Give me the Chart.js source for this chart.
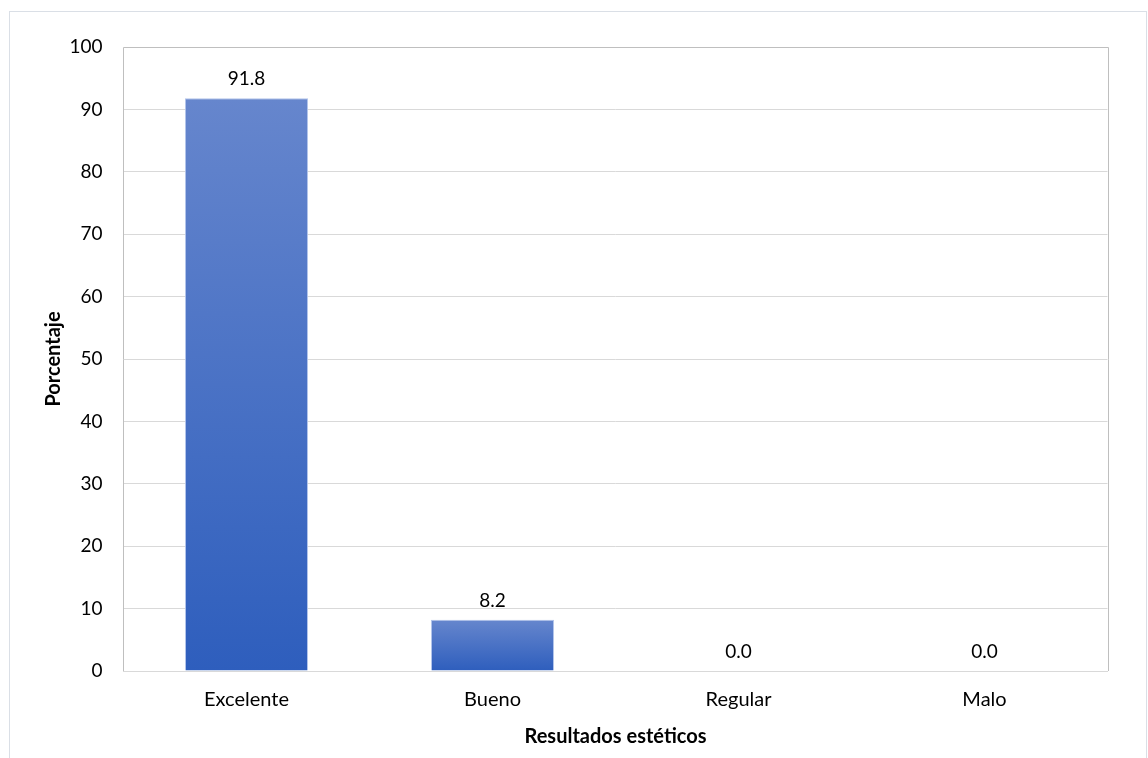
<!DOCTYPE html>
<html>
<head>
<meta charset="utf-8">
<script src="https://cdn.jsdelivr.net/npm/chart.js@4/dist/chart.umd.min.js"></script>
<style>
  html, body { margin: 0; padding: 0; background: #ffffff; }
  #wrap { position: relative; width: 1148px; height: 758px; }
</style>
</head>
<body>
<div id="wrap"><canvas id="c" width="1148" height="758"></canvas></div>
<script>
// Data
const categories = ['Excelente', 'Bueno', 'Regular', 'Malo'];
const percentages = [91.8, 8.2, 0.0, 0.0];
const yTicks = [0, 10, 20, 30, 40, 50, 60, 70, 80, 90, 100];

const FONT = 'Lato, "Open Sans", "Noto Sans", sans-serif';
const TEXT = '#000000';

// Vertical gradient per bar, from its top to the zero line
function barFill(ctx) {
  const chart = ctx.chart;
  const ys = chart.scales.y;
  if (!ys || ctx.type !== 'data') return '#3f6ec5';
  const v = percentages[ctx.dataIndex];
  const top = ys.getPixelForValue(v);
  const base = ys.getPixelForValue(0);
  if (!isFinite(top) || !isFinite(base) || base - top < 1) return '#3f6ec5';
  const g = chart.ctx.createLinearGradient(0, top, 0, base);
  g.addColorStop(0, '#6686cd');
  g.addColorStop(1, '#2e5ebd');
  return g;
}

// Outer frame and plot frame
const frames = {
  id: 'frames',
  beforeDraw(chart) {
    const c = chart.ctx;
    c.save();
    c.strokeStyle = '#dadfe6';
    c.lineWidth = 1;
    c.strokeRect(9.5, 11.5, 1137, 800);
    c.restore();
  },
  afterDatasetsDraw(chart) {
    const a = chart.chartArea;
    const c = chart.ctx;
    c.save();
    c.strokeStyle = '#bfbfbf';
    c.lineWidth = 1;
    c.beginPath();
    c.moveTo(Math.round(a.left) - 0.5, Math.round(a.bottom));
    c.lineTo(Math.round(a.left) - 0.5, Math.round(a.top) + 0.5);
    c.lineTo(Math.round(a.right) + 0.5, Math.round(a.top) + 0.5);
    c.lineTo(Math.round(a.right) + 0.5, Math.round(a.bottom));
    c.stroke();
    c.restore();
  }
};

// Value labels above each bar
const valueLabels = {
  id: 'valueLabels',
  afterDatasetsDraw(chart) {
    const meta = chart.getDatasetMeta(0);
    const c = chart.ctx;
    c.save();
    c.font = '19px ' + FONT;
    c.fillStyle = TEXT;
    c.textAlign = 'center';
    c.textBaseline = 'middle';
    meta.data.forEach((bar, i) => {
      c.fillText(percentages[i].toFixed(1), bar.x, bar.y - 19);
    });
    c.restore();
  }
};

new Chart(document.getElementById('c'), {
  type: 'bar',
  data: {
    labels: categories,
    datasets: [{
      data: percentages,
      backgroundColor: barFill,
      borderColor: 'rgba(170,190,232,0.9)',
      borderWidth: 1,
      barPercentage: 0.5,
      categoryPercentage: 1.0
    }]
  },
  options: {
    responsive: false,
    animation: false,
    devicePixelRatio: 1,
    layout: { padding: { left: 0, top: 47, right: 40.5, bottom: 0 } },
    plugins: {
      legend: { display: false },
      tooltip: { enabled: false }
    },
    scales: {
      x: {
        grid: { display: false, drawTicks: false },
        border: { display: true, color: '#d9d9d9', width: 1 },
        ticks: { color: TEXT, font: { family: FONT, size: 20 }, padding: 17 },
        title: {
          display: true,
          text: 'Resultados estéticos',
          color: TEXT,
          font: { family: FONT, size: 20, weight: 'bold' },
          padding: { top: 0, bottom: 9 }
        },
        afterFit(scale) { scale.height = 87; }
      },
      y: {
        min: 0,
        max: 100,
        afterBuildTicks(scale) { scale.ticks = yTicks.map(v => ({ value: v })); },
        grid: { color: '#d9d9d9', drawTicks: false },
        border: { display: false },
        ticks: { color: TEXT, font: { family: FONT, size: 19 }, padding: 21 },
        title: {
          display: true,
          text: 'Porcentaje',
          color: TEXT,
          font: { family: FONT, size: 20, weight: 'bold' },
          padding: { top: 42, bottom: 0 }
        },
        afterFit(scale) { scale.width = 123.5; }
      }
    }
  },
  plugins: [frames, valueLabels]
});
</script>
</body>
</html>
